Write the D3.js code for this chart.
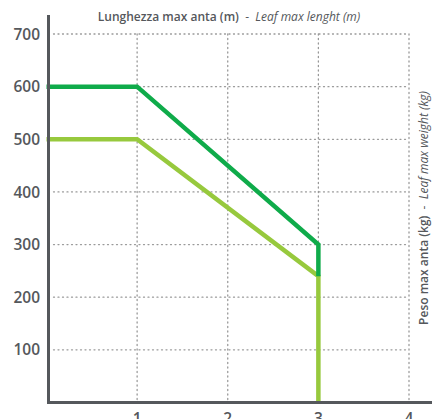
<!DOCTYPE html>
<html><head><meta charset="utf-8">
<script src="https://cdn.jsdelivr.net/npm/d3@7"></script>
<style>body{margin:0;background:#fff}svg{display:block}</style>
</head><body>
<script>
const xTicks = [1, 2, 3, 4];
const yTicks = [100, 200, 300, 400, 500, 600, 700];
const darkX = [0, 1, 3, 3];
const darkY = [600, 600, 300, 240];
const lightX = [0, 1, 3, 3];
const lightY = [500, 500, 240, 0];
const titleTop = ["Lunghezza max anta (m)", "Leaf max lenght (m)"];
const titleRight = ["Peso max anta (kg)", "Leaf max weight (kg)"];

const W = 432, H = 419;
const svg = d3.select("body").append("svg").attr("width", W).attr("height", H);
const x = d3.scaleLinear().domain([0, 4]).range([46.5, 409]);
const y = d3.scaleLinear().domain([0, 700]).range([402.5, 34]);
const txt = "#55585c", ff = "'Open Sans', sans-serif";

// grid
const g = svg.append("g").attr("stroke", "#999").attr("stroke-width", 1.3)
  .attr("stroke-dasharray", "1,3.5").attr("stroke-linecap", "round");
g.selectAll("line.h").data(yTicks).join("line")
  .attr("x1", x(0) + 7).attr("x2", x(4)).attr("y1", d => y(d)).attr("y2", d => y(d));
g.selectAll("line.v").data(xTicks).join("line")
  .attr("x1", d => x(d)).attr("x2", d => x(d)).attr("y1", y(700)).attr("y2", y(0));

// y tick labels
svg.selectAll("text.yt").data(yTicks).join("text")
  .attr("x", 40).attr("y", d => y(d)).attr("dy", "0.36em")
  .attr("text-anchor", "end").attr("font-family", ff).attr("font-weight", 600)
  .attr("font-size", 15.5).attr("fill", txt).text(d => d);
// x tick labels
svg.selectAll("text.xt").data(xTicks).join("text")
  .attr("x", d => x(d)).attr("y", 424)
  .attr("text-anchor", "middle").attr("font-family", ff).attr("font-weight", 600)
  .attr("font-size", 15.5).attr("fill", txt).text(d => d);

// lines
const line = d3.line().x(d => x(d[0])).y(d => y(d[1]));
svg.append("path").datum(lightX.map((v, i) => [v, lightY[i]]))
  .attr("d", line).attr("fill", "none").attr("stroke", "#97c93d").attr("stroke-width", 4.5);
svg.append("path").datum(darkX.map((v, i) => [v, darkY[i]]))
  .attr("d", line).attr("fill", "none").attr("stroke", "#0fab4a").attr("stroke-width", 4.5);

// axes
svg.append("line").attr("x1", 48.5).attr("x2", 48.5).attr("y1", 15).attr("y2", 403.5)
  .attr("stroke", "#55585c").attr("stroke-width", 3);
svg.append("line").attr("x1", 47).attr("x2", 432).attr("y1", 402.5).attr("y2", 402.5)
  .attr("stroke", "#55585c").attr("stroke-width", 3);

// top title
const t = svg.append("text").attr("x", 229).attr("y", 21).attr("text-anchor", "middle")
  .attr("font-family", ff).attr("font-size", 12).attr("fill", txt);
t.append("tspan").attr("font-weight", 600).text(titleTop[0]);
t.append("tspan").text("\u00a0\u00a0-\u00a0\u00a0");
t.append("tspan").attr("font-style", "italic").text(titleTop[1]);

// right title
const r = svg.append("text").attr("transform", "translate(428,208) rotate(-90)")
  .attr("text-anchor", "middle")
  .attr("font-family", ff).attr("font-size", 12).attr("fill", txt);
r.append("tspan").attr("font-weight", 600).text(titleRight[0]);
r.append("tspan").text("\u00a0\u00a0-\u00a0\u00a0");
r.append("tspan").attr("font-style", "italic").text(titleRight[1]);
</script>
</body></html>
